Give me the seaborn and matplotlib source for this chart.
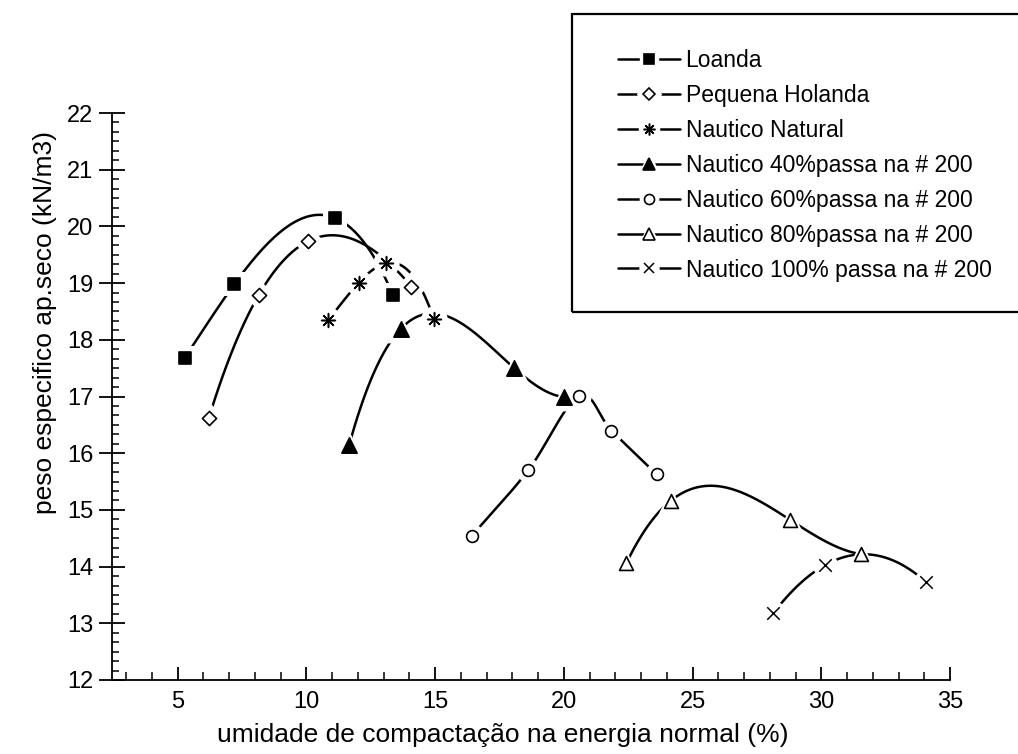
import numpy as np
import pandas as pd
import matplotlib
matplotlib.use("Agg")
import matplotlib.pyplot as plt
import seaborn as sns
from matplotlib.lines import Line2D
from matplotlib.patches import Rectangle
from matplotlib.legend_handler import HandlerTuple
from matplotlib.ticker import MultipleLocator, AutoMinorLocator

# ---------------- data ----------------
series_names = [
    "Loanda",
    "Pequena Holanda",
    "Nautico Natural",
    "Nautico 40%passa na # 200",
    "Nautico 60%passa na # 200",
    "Nautico 80%passa na # 200",
    "Nautico 100% passa na # 200",
]
loanda_x = [5.27, 7.20, 11.11, 13.36]
loanda_y = [17.68, 18.98, 20.15, 18.79]
holanda_x = [6.21, 8.15, 10.07, 14.08]
holanda_y = [16.62, 18.79, 19.74, 18.94]
natural_x = [10.85, 12.04, 13.10, 14.95]
natural_y = [18.35, 19.01, 19.35, 18.37]
n40_x = [11.66, 13.66, 18.05, 20.01]
n40_y = [16.14, 18.19, 17.51, 16.99]
n60_x = [16.42, 18.62, 20.59, 21.85, 23.60]
n60_y = [14.54, 15.70, 17.01, 16.40, 15.63]
n80_x = [22.43, 24.15, 28.77, 31.54]
n80_y = [14.06, 15.16, 14.83, 14.22]
n100_x = [28.14, 30.16, 34.06]
n100_y = [13.18, 14.03, 13.73]

x_ticks = [5, 10, 15, 20, 25, 30, 35]
y_ticks = [12, 13, 14, 15, 16, 17, 18, 19, 20, 21, 22]
x_label = "umidade de compactação na energia normal (%)"
y_label = "peso especifico ap.seco (kN/m3)"

# ---------------- style ----------------
sns.set_theme(style="white")
plt.rcParams["font.family"] = ["Liberation Sans", "DejaVu Sans"]
plt.rcParams["axes.linewidth"] = 1.3

xs = [loanda_x, holanda_x, natural_x, n40_x, n60_x, n80_x, n100_x]
ys = [loanda_y, holanda_y, natural_y, n40_y, n60_y, n80_y, n100_y]
# curve type per series: polynomial trend order, or "smooth" (spline through points)
curve_kind = [3, 3, 3, 3, "smooth", 3, 2]
styles = [
    dict(marker="s", ms=8.0, face="black", halo="s"),
    dict(marker="D", ms=7.2, face="white", halo="D"),
    dict(marker=(8, 2, 0), ms=10.0, face="black", halo="o"),
    dict(marker="^", ms=11.0, face="black", halo="^"),
    dict(marker="o", ms=8.5, face="white", halo="o"),
    dict(marker="^", ms=10.0, face="white", halo="^"),
    dict(marker="x", ms=9.0, face="black", halo="o"),
]


def is_filled(m):
    return m != "x" and not isinstance(m, tuple)


def catmull_rom(x, y, n=40):
    p = np.column_stack([x, y]).astype(float)
    p = np.vstack([2 * p[0] - p[1], p, 2 * p[-1] - p[-2]])
    out = []
    t = np.linspace(0, 1, n)[:, None]
    for i in range(1, len(p) - 2):
        p0, p1, p2, p3 = p[i - 1], p[i], p[i + 1], p[i + 2]
        seg = 0.5 * ((2 * p1) + (-p0 + p2) * t + (2 * p0 - 5 * p1 + 4 * p2 - p3) * t ** 2
                     + (-p0 + 3 * p1 - 3 * p2 + p3) * t ** 3)
        out.append(seg if i == 1 else seg[1:])
    out = np.vstack(out)
    return out[:, 0], out[:, 1]


fig = plt.figure(figsize=(10.18, 7.54), dpi=100)
fig.patch.set_facecolor("white")
ax = fig.add_axes([112 / 1018, 1 - 680 / 754, (950 - 112) / 1018, (680 - 113) / 754])
ax.set_facecolor("white")

for x, y, kind in zip(xs, ys, curve_kind):
    df = pd.DataFrame({"x": x, "y": y})
    if kind == "smooth":
        cx, cy = catmull_rom(x, y)
        sns.lineplot(x=cx, y=cy, sort=False, estimator=None, color="black",
                     lw=1.8, ax=ax, zorder=2)
    else:
        sns.regplot(data=df, x="x", y="y", order=kind, ci=None, scatter=False,
                    truncate=True, ax=ax,
                    line_kws=dict(color="black", lw=1.8, zorder=2))

for x, y, st in zip(xs, ys, styles):
    df = pd.DataFrame({"x": x, "y": y})
    halo_ms = st["ms"] + 9
    sns.scatterplot(data=df, x="x", y="y", marker=st["halo"], s=halo_ms ** 2,
                    color="white", edgecolor="white", linewidth=0, ax=ax,
                    zorder=3, legend=False)
for x, y, st in zip(xs, ys, styles):
    df = pd.DataFrame({"x": x, "y": y})
    if is_filled(st["marker"]):
        sns.scatterplot(data=df, x="x", y="y", marker=st["marker"], s=st["ms"] ** 2,
                        color=st["face"], edgecolor="black", linewidth=1.2,
                        ax=ax, zorder=4, legend=False)
    else:
        sns.scatterplot(data=df, x="x", y="y", marker=st["marker"], s=st["ms"] ** 2,
                        color="black", linewidth=1.1, ax=ax, zorder=4, legend=False)

ax.set_xlim(2.45, 35.0)
ax.set_ylim(12, 22)
ax.set_xticks(x_ticks)
ax.set_yticks(y_ticks)
ax.xaxis.set_minor_locator(MultipleLocator(1))
ax.yaxis.set_minor_locator(AutoMinorLocator(6))
for s in ["top", "right"]:
    ax.spines[s].set_visible(False)
for s in ["left", "bottom"]:
    ax.spines[s].set_color("black")

ax.tick_params(axis="y", which="major", direction="inout", length=19, width=1.3,
               labelsize=17, pad=4, colors="black", left=True)
ax.tick_params(axis="y", which="minor", direction="in", length=5, width=1.1,
               colors="black", left=True)
ax.tick_params(axis="x", which="major", direction="in", length=9.5, width=1.3,
               labelsize=17, pad=8, colors="black", bottom=True)
ax.tick_params(axis="x", which="minor", direction="in", length=5.5, width=1.1,
               colors="black", bottom=True)

ax.set_xlabel(x_label, fontsize=19, color="black")
ax.set_ylabel(y_label, fontsize=19, color="black")
ax.xaxis.set_label_coords(0.466, -0.076)
ax.yaxis.set_label_coords(-0.066, 0.63)
ax.xaxis.label.set_verticalalignment("top")

# legend frame (extends past right edge as in original)
fig.patches.append(Rectangle((572 / 1018, 1 - 312 / 754), 0.6, 298 / 754,
                             transform=fig.transFigure, fill=False,
                             edgecolor="black", lw=1.6, zorder=5))

handles = []
for st in styles:
    line = Line2D([], [], color="black", lw=1.8)
    halo = Line2D([], [], ls="none", marker=st["halo"], ms=st["ms"] * 0.85 + 6,
                  markerfacecolor="white", markeredgecolor="white")
    if is_filled(st["marker"]):
        mk = Line2D([], [], ls="none", marker=st["marker"], ms=st["ms"] * 0.85,
                    markerfacecolor=st["face"], markeredgecolor="black", mew=1.2)
    else:
        mk = Line2D([], [], ls="none", marker=st["marker"], ms=st["ms"] * 0.85,
                    color="black", mew=1.1)
    handles.append((line, halo, mk))

leg = fig.legend(handles, series_names, loc="upper left",
                 bbox_to_anchor=(618 / 1018, 1 - 49 / 754),
                 frameon=False, fontsize=16.5, borderpad=0, borderaxespad=0,
                 handlelength=2.7, handletextpad=0.25, labelspacing=0.52,
                 numpoints=1, handler_map={tuple: HandlerTuple(ndivide=1)})
for t in leg.get_texts():
    t.set_color("black")

fig.savefig("out.png", dpi=100, facecolor="white")
